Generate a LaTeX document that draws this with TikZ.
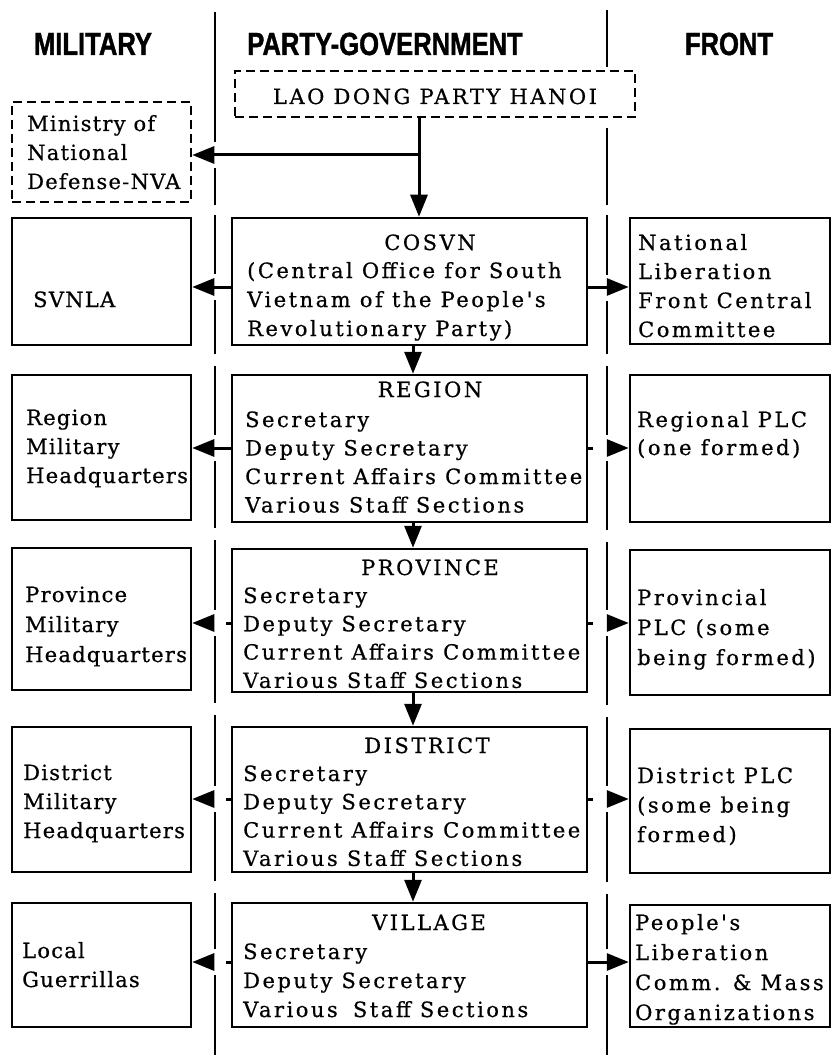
\documentclass[tikz,border=0pt]{standalone}
\usepackage{fontspec}
\usetikzlibrary{arrows.meta}
\newfontfamily\boxfont{DejaVu Serif}[LetterSpace=12,FakeBold=0.6]
\newfontfamily\boxfontn{DejaVu Serif}[LetterSpace=6,FakeBold=0.6]
\newfontfamily\headfont{Liberation Sans Bold}[FakeStretch=0.8,FakeBold=1.2]
\newcommand\bx[6]{%
  \pgfmathsetmacro\bxw{#5-#3}\pgfmathsetmacro\bxh{#6-#4}%
  \node[#2, minimum width=\bxw pt, minimum height=\bxh pt] (#1) at ({(#3+#5)/2},{(#4+#6)/2}) {};}
\newcommand\lns[6][]{%
  \foreach \t [count=\i] in {#6}{\node[txt,#1] (#2\i) at (#3,{#4+(\i-1)*#5}) {\t};}}
\begin{document}
\begin{tikzpicture}[x=1pt,y=-1pt,
  box/.style={draw, line width=2.5pt, inner sep=0pt},
  dbox/.style={box, dash pattern=on 9pt off 5pt},
  txt/.style={inner sep=0pt, anchor=base west, font=\boxfont\fontsize{21}{24}\selectfont},
  ntxt/.style={font=\boxfontn\fontsize{21}{24}\selectfont},
  ttl/.style={txt, anchor=base},
  hdr/.style={inner sep=0pt, anchor=base, font=\headfont\fontsize{32}{36}\selectfont},
  conn/.style={line width=3pt, -{Triangle[length=22pt,width=17pt]}},
  dconn/.style={conn, dash pattern=on 5pt off 60pt},
  divider/.style={line width=2.8pt}]
\fill[white] (0,0) rectangle (832,1059);
\useasboundingbox (0,0) rectangle (832,1059);

% headers
\node[hdr] (hmil) at (93,55) {MILITARY};
\node[hdr] (hpg) at (385,55) {PARTY-GOVERNMENT};
\node[hdr] (hfr) at (729,55) {FRONT};

% dividers
\draw[divider] (215,12)--(215,142) (215,168)--(215,205) (215,215)--(215,274)
  (215,300)--(215,354) (215,366)--(215,435) (215,461)--(215,528) (215,540)--(215,610)
  (215,636)--(215,703) (215,715)--(215,786) (215,812)--(215,881) (215,893)--(215,949)
  (215,975)--(215,1055);
\draw[divider] (607,10)--(607,67) (607,128)--(607,205) (607,215)--(607,275)
  (607,301)--(607,354) (607,366)--(607,435) (607,461)--(607,530) (607,542)--(607,610)
  (607,636)--(607,705) (607,717)--(607,786) (607,812)--(607,882) (607,894)--(607,949)
  (607,975)--(607,1055);

% boxes
\bx{lao}{dbox}{235}{71}{635}{117}
\bx{ministry}{dbox}{12}{102}{191}{202}
\bx{svnla}{box}{12}{218}{191}{345}
\bx{rmhq}{box}{12}{375}{191}{520}
\bx{pmhq}{box}{12}{548}{191}{690}
\bx{dmhq}{box}{12}{727}{191}{872}
\bx{local}{box}{12}{903}{191}{1027}
\bx{cosvn}{box}{232}{218}{587}{345}
\bx{region}{box}{232}{375}{587}{522}
\bx{province}{box}{232}{549}{587}{692}
\bx{district}{box}{232}{727}{587}{872}
\bx{village}{box}{232}{903}{587}{1027}
\bx{nlf}{box}{630}{218}{830}{344}
\bx{rplc}{box}{630}{375}{830}{522}
\bx{pplc}{box}{630}{550}{830}{695}
\bx{dplc}{box}{630}{729}{830}{873}
\bx{people}{box}{630}{905}{830}{1027}

% texts
\node[ttl] (laot) at (435,104) {LAO DONG PARTY HANOI};
\lns[ntxt]{mint}{27}{131}{29}{{Ministry of},{National},{Defense-NVA}}
\node[txt,ntxt] (svt) at (33,307) {SVNLA};
\lns[ntxt]{rmt}{26}{425}{29}{Region,Military,Headquarters}
\lns[ntxt]{pmt}{25}{602}{30}{Province,Military,Headquarters}
\lns[ntxt]{dmt}{23}{780}{29}{District,Military,Headquarters}
\lns[ntxt]{lgt}{22}{958}{29}{Local,Guerrillas}

\node[ttl] (cost) at (430,250) {COSVN};
\lns{cosl}{247}{278}{29}{{(Central Office for South},{Vietnam of the People's},{Revolutionary Party)}}
\node[ttl] (regt) at (430,397) {REGION};
\lns{regl}{245}{427}{28.5}{Secretary,{Deputy Secretary},{Current Affairs Committee},{Various Staff Sections}}
\node[ttl] (prot) at (430,575) {PROVINCE};
\lns{prol}{243}{603}{28.3}{Secretary,{Deputy Secretary},{Current Affairs Committee},{Various Staff Sections}}
\node[ttl] (dist) at (427,753) {DISTRICT};
\lns{disl}{243}{781}{28.3}{Secretary,{Deputy Secretary},{Current Affairs Committee},{Various Staff Sections}}
\node[ttl] (vilt) at (429,930) {VILLAGE};
\lns{vill}{243}{959}{29}{Secretary,{Deputy Secretary},{Various\hspace{6pt} Staff Sections}}

\lns{nlft}{638}{250}{29}{National,Liberation,{Front Central},Committee}
\lns{rplt}{637}{427}{28}{{Regional PLC},{(one formed)}}
\lns{pplt}{637}{605}{30}{Provincial,{PLC (some},{being formed)}}
\lns{dplt}{637}{783}{29.5}{{District PLC},{(some being},{formed)}}
\lns{pept}{635}{930}{30}{People's,Liberation,{Comm. \& Mass},Organizations}

% connectors
\coordinate (j) at (419,155);
\draw[conn] (lao.south -| j) -- (cosvn.north -| j);
\draw[conn] (j) -- (ministry.east |- j);
\coordinate (y1) at (0,287);
\coordinate (y2) at (0,448);
\coordinate (y3) at (0,623);
\coordinate (y4) at (0,799);
\coordinate (y5) at (0,962);
\draw[conn] (cosvn.west |- y1) -- (svnla.east |- y1);
\draw[conn] (cosvn.east |- y1) -- (nlf.west |- y1);
\draw[conn] (region.west |- y2) -- (rmhq.east |- y2);
\draw[dconn] (region.east |- y2) -- (rplc.west |- y2);
\draw[dconn] (province.west |- y3) -- (pmhq.east |- y3);
\draw[dconn] (province.east |- y3) -- (pplc.west |- y3);
\draw[dconn] (district.west |- y4) -- (dmhq.east |- y4);
\draw[dconn] (district.east |- y4) -- (dplc.west |- y4);
\draw[dconn] (village.west |- y5) -- (local.east |- y5);
\draw[conn] (village.east |- y5) -- (people.west |- y5);
\coordinate (vx) at (413,0);
\draw[conn] (cosvn.south -| vx) -- (region.north -| vx);
\draw[conn] (region.south -| vx) -- (province.north -| vx);
\draw[conn] (province.south -| vx) -- (district.north -| vx);
\draw[conn] (district.south -| vx) -- (village.north -| vx);
\end{tikzpicture}
\end{document}
